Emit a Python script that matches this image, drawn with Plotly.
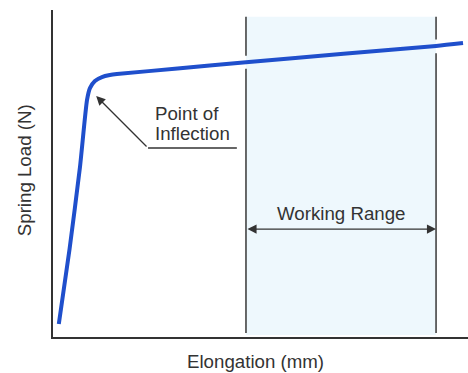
import plotly.graph_objects as go

# Load-elongation curve of a spring (arbitrary units, 0-100 on both axes)
elongation = [1.4, 4.0, 6.5, 8.2, 8.9, 10.1, 11.8, 13.7, 15.4, 30.0, 46.5, 70.0, 92.3, 98.8]
load = [4.0, 27.0, 52.0, 72.5, 76.1, 78.3, 79.5, 80.1, 80.4, 82.1, 84.0, 86.6, 89.0, 89.9]

# Working range bounds along the elongation axis
work_lo, work_hi = 46.5, 92.3
work_label_y = 33.0

# Point of inflection and its label leader
inflection = (10.4, 73.7)
leader_start = (22.9, 57.8)
leader_end_x = 44.3

FONT = "Liberation Sans, Arial, sans-serif"
TEXT = "#333333"
AXIS = "#333333"
FS = 18.7

fig = go.Figure()

fig.add_trace(go.Scatter(
    x=elongation, y=load, mode="lines",
    line=dict(color="#1f4fcc", width=4, shape="spline", smoothing=0.6),
    hoverinfo="skip", showlegend=False,
))

shapes = [
    # shaded working range
    dict(type="rect", xref="x", yref="y", x0=work_lo, x1=work_hi, y0=0.6, y1=97.9,
         fillcolor="#eef8fd", line=dict(width=0), layer="below"),
    # range boundaries, broken where the curve crosses
    dict(type="line", xref="x", yref="y", x0=work_lo, x1=work_lo, y0=1.2, y1=82.0,
         line=dict(color="#444444", width=1.6), layer="below"),
    dict(type="line", xref="x", yref="y", x0=work_lo, x1=work_lo, y0=86.0, y1=97.9,
         line=dict(color="#444444", width=1.6), layer="below"),
    dict(type="line", xref="x", yref="y", x0=work_hi, x1=work_hi, y0=1.2, y1=86.8,
         line=dict(color="#444444", width=1.6), layer="below"),
    dict(type="line", xref="x", yref="y", x0=work_hi, x1=work_hi, y0=91.0, y1=97.9,
         line=dict(color="#444444", width=1.6), layer="below"),
    # horizontal leader under the inflection label
    dict(type="line", xref="x", yref="y", x0=leader_start[0], x1=leader_end_x,
         y0=leader_start[1], y1=leader_start[1],
         line=dict(color="#333333", width=1.4)),
]

annotations = [
    # arrow pointing at the inflection point
    dict(x=inflection[0], y=inflection[1], ax=leader_start[0], ay=leader_start[1],
         xref="x", yref="y", axref="x", ayref="y", text="", showarrow=True,
         arrowhead=2, arrowsize=1.4, arrowwidth=1.3, arrowcolor="#333333"),
    dict(x=24.0, y=leader_start[1] + 6.7,
         xref="x", yref="y", text="Point of", showarrow=False,
         xanchor="left", yanchor="bottom",
         font=dict(family=FONT, size=FS, color=TEXT)),
    dict(x=24.0, y=leader_start[1] + 0.6,
         xref="x", yref="y", text="Inflection", showarrow=False,
         xanchor="left", yanchor="bottom",
         font=dict(family=FONT, size=FS, color=TEXT)),
    # double arrow across the working range
    dict(x=work_hi, y=work_label_y, ax=work_lo, ay=work_label_y,
         xref="x", yref="y", axref="x", ayref="y", text="", showarrow=True,
         arrowhead=2, startarrowhead=2, arrowside="end+start",
         arrowsize=1.4, startarrowsize=1.4, arrowwidth=1.3, arrowcolor="#333333"),
    dict(x=(work_lo + work_hi) / 2, y=work_label_y + 0.8, xref="x", yref="y",
         text="Working Range", showarrow=False, yanchor="bottom",
         font=dict(family=FONT, size=FS, color=TEXT)),
    # axis titles
    dict(x=0.489, y=0, xref="paper", yref="paper", text="Elongation (mm)",
         showarrow=False, yanchor="top", yshift=-12,
         font=dict(family=FONT, size=FS, color=TEXT)),
    dict(x=0, y=0.51, xref="paper", yref="paper", text="Spring Load (N)",
         showarrow=False, textangle=-90, xanchor="center", xshift=-29,
         font=dict(family=FONT, size=FS, color=TEXT)),
]

fig.update_layout(
    width=468, height=373,
    margin=dict(l=53, r=0, t=10, b=36),
    paper_bgcolor="white", plot_bgcolor="white",
    shapes=shapes, annotations=annotations,
    xaxis=dict(range=[0, 100], showgrid=False, zeroline=False, showticklabels=False,
               ticks="", showline=True, linecolor=AXIS, linewidth=2),
    yaxis=dict(range=[0, 100], showgrid=False, zeroline=False, showticklabels=False,
               ticks="", showline=True, linecolor=AXIS, linewidth=2),
)

fig.write_html("out.html")
